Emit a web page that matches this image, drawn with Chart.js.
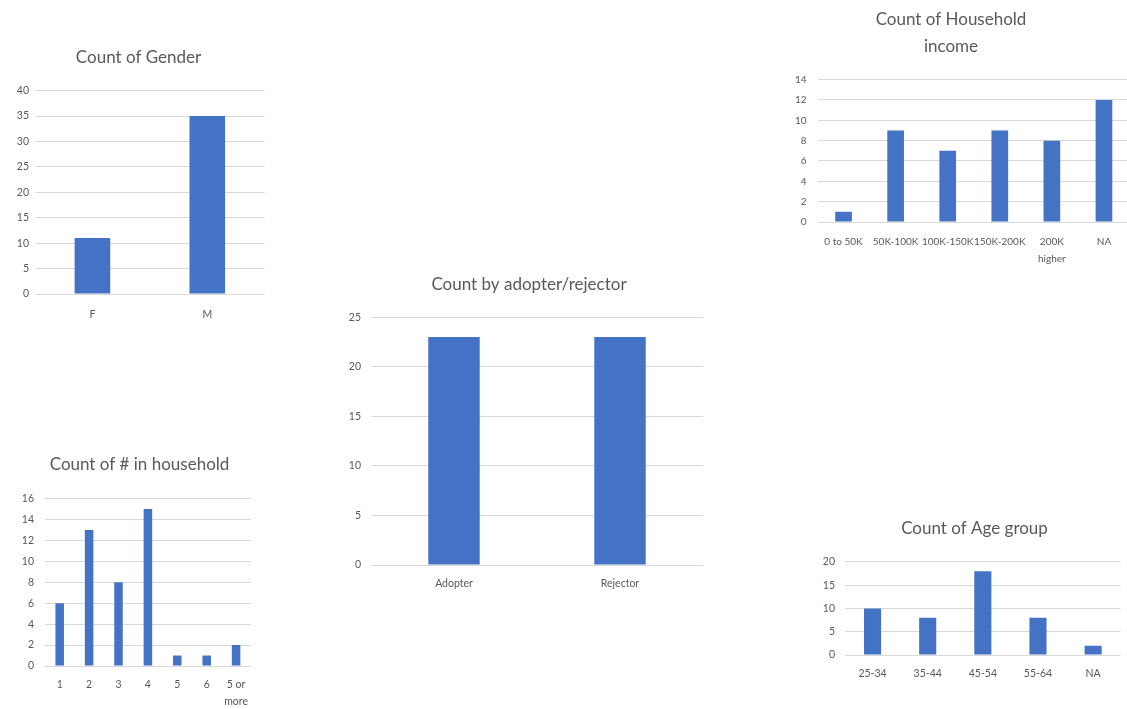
<!DOCTYPE html>
<html>
<head>
<meta charset="utf-8">
<script src="https://cdn.jsdelivr.net/npm/chart.js@4.4.1/dist/chart.umd.min.js"></script>
<style>
  html, body { margin: 0; padding: 0; background: #fff; }
  body { width: 1127px; height: 709px; position: relative; overflow: hidden; }
  canvas { position: absolute; }
</style>
</head>
<body>
<canvas id="genderChart"></canvas>
<canvas id="incomeChart"></canvas>
<canvas id="householdChart"></canvas>
<canvas id="adopterChart"></canvas>
<canvas id="ageChart"></canvas>
<script>
// data
const genderLabels = ['F', 'M'];
const genderCounts = [11, 35];

const incomeLabels = ['0 to 50K', '50K-100K', '100K-150K', '150K-200K', ['200K', 'higher'], 'NA'];
const incomeCounts = [1, 9, 7, 9, 8, 12];

const householdLabels = ['1', '2', '3', '4', '5', '6', ['5 or', 'more']];
const householdCounts = [6, 13, 8, 15, 1, 1, 2];

const adopterLabels = ['Adopter', 'Rejector'];
const adopterCounts = [23, 23];

const ageLabels = ['25-34', '35-44', '45-54', '55-64', 'NA'];
const ageCounts = [10, 8, 18, 8, 2];

const FONT = "'Lato', sans-serif";
const TEXT = '#595959';
const BAR = '#4472c4';
const GRID = '#d9d9d9';
const TITLE_SIZE = 17;
const TITLE_LH = 1.6;

// box = where the plot area sits on the page, plus the title centre
const makeChart = (id, title, labels, values, box) => {
  const lhPx = TITLE_SIZE * TITLE_LH;
  const lines = Array.isArray(title) ? title.length : 1;
  const tickSize = box.tickSize || 10.5;
  const padTop = 4;
  const top = box.titleY - lhPx / 2 - padTop;
  const padBottom = box.plotTop - top - padTop - lines * lhPx;
  const xAxisH = 60;
  const height = Math.round(box.plotBottom + xAxisH - top);

  // title is centred between left axis edge and canvas right edge;
  // a blank right axis pads the plot so the title can sit where it should
  const axisLeft = Math.min(box.plotLeft - 30, 2 * box.titleX - box.plotRight);
  const right = 2 * box.titleX - axisLeft;
  const extraRight = right - box.plotRight;
  const left = axisLeft - 10;
  const width = Math.round(right - left);
  const yAxisW = box.plotLeft - axisLeft;

  const canvas = document.getElementById(id);
  canvas.width = width;
  canvas.height = height;
  canvas.style.left = left + 'px';
  canvas.style.top = top + 'px';
  canvas.style.width = width + 'px';
  canvas.style.height = height + 'px';

  new Chart(canvas, {
    type: 'bar',
    data: {
      labels: labels,
      datasets: [{
        data: values,
        backgroundColor: BAR,
        borderWidth: 0,
        categoryPercentage: 1,
        barPercentage: box.barPct || 0.31
      }]
    },
    options: {
      responsive: false,
      animation: false,
      layout: { padding: { left: 10, right: 0, top: 0, bottom: 0 } },
      plugins: {
        legend: { display: false },
        tooltip: { enabled: false },
        title: {
          display: true,
          text: title,
          color: TEXT,
          font: { family: FONT, size: TITLE_SIZE, weight: 'normal', lineHeight: TITLE_LH },
          padding: { top: padTop, bottom: padBottom }
        }
      },
      scales: {
        x: {
          grid: { display: false, drawTicks: false },
          border: { display: false },
          ticks: {
            color: TEXT,
            font: { family: FONT, size: tickSize, lineHeight: 17.3 / tickSize },
            padding: box.xPad,
            maxRotation: 0,
            minRotation: 0,
            autoSkip: false
          },
          afterFit: (scale) => { scale.height = xAxisH; }
        },
        y: {
          min: 0,
          max: box.max,
          grid: { color: GRID, lineWidth: 1, drawTicks: false },
          border: { display: false },
          ticks: {
            stepSize: box.step,
            color: TEXT,
            font: { family: FONT, size: tickSize },
            padding: box.yPad
          },
          afterFit: (scale) => { scale.width = yAxisW; }
        },
        pad: {
          type: 'linear',
          position: 'right',
          grid: { display: false, drawTicks: false },
          border: { display: false },
          ticks: { display: false },
          afterFit: (scale) => { scale.width = extraRight; }
        }
      }
    }
  });
};

makeChart('genderChart', 'Count of Gender', genderLabels, genderCounts,
  { titleX: 138, titleY: 58, plotLeft: 34.7, plotRight: 264, plotTop: 91, plotBottom: 294, max: 40, step: 5, yPad: 6, xPad: 12 });

makeChart('incomeChart', ['Count of Household', 'income'], incomeLabels, incomeCounts,
  { titleX: 951, titleY: 20, plotLeft: 817.5, plotRight: 1130, plotTop: 80, plotBottom: 222.7, max: 14, step: 2, yPad: 11, xPad: 11, barPct: 0.32, tickSize: 10 });

makeChart('householdChart', 'Count of # in household', householdLabels, householdCounts,
  { titleX: 140, titleY: 465, plotLeft: 45.3, plotRight: 251.5, plotTop: 499, plotBottom: 666, max: 16, step: 2, yPad: 11, xPad: 10, barPct: 0.29 });

makeChart('adopterChart', 'Count by adopter/rejector', adopterLabels, adopterCounts,
  { titleX: 528.5, titleY: 285, plotLeft: 370.5, plotRight: 702.5, plotTop: 317.7, plotBottom: 565, max: 25, step: 5, yPad: 10, xPad: 10 });

makeChart('ageChart', 'Count of Age group', ageLabels, ageCounts,
  { titleX: 974.5, titleY: 529, plotLeft: 844.9, plotRight: 1120.8, plotTop: 562.3, plotBottom: 655.7, max: 20, step: 5, yPad: 10, xPad: 10 });
</script>
</body>
</html>
